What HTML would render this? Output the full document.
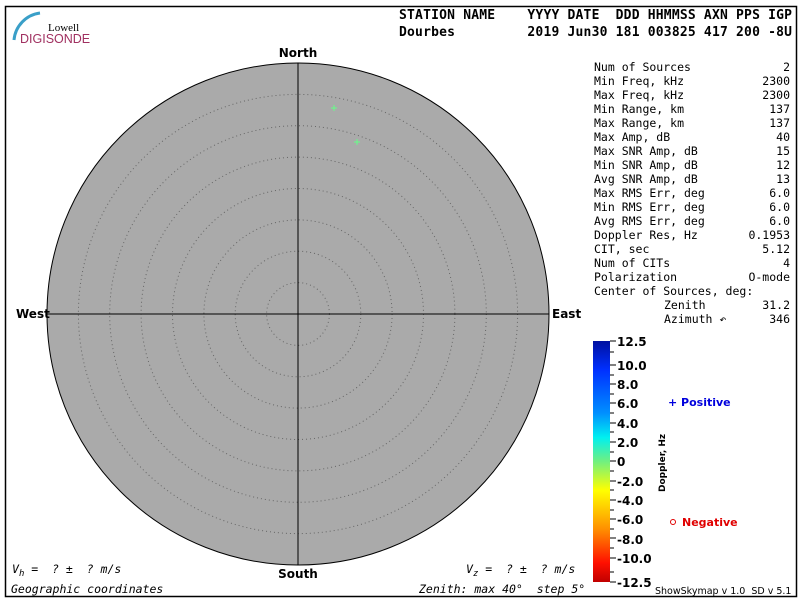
<!DOCTYPE html>
<html><head><meta charset="utf-8"><style>
body{margin:0;background:#fff}
svg{display:block}
.m{font-family:"DejaVu Sans Mono","Liberation Mono",monospace;font-size:11.5px}
.b{font-family:"DejaVu Sans Mono","Liberation Mono",monospace;font-size:13px;font-weight:bold}
.s{font-family:"DejaVu Sans","Liberation Sans",sans-serif;font-weight:bold;font-size:12px}
</style></head><body>
<svg width="800" height="600" xmlns="http://www.w3.org/2000/svg">
<rect x="5.5" y="6.5" width="791" height="590" fill="#fff" stroke="#000" stroke-width="1.5"/>
<!-- logo -->
<path d="M14 40 A30 30 0 0 1 40 13" fill="none" stroke="#3a9fc8" stroke-width="3"/>
<text x="48" y="31" font-family="Liberation Serif,serif" font-size="11">Lowell</text>
<text x="20" y="43" font-family="Liberation Sans,sans-serif" font-size="12.5" fill="#a03060">DIGISONDE</text>
<!-- header -->
<text class="b" x="399" y="19" textLength="393" xml:space="preserve">STATION NAME    YYYY DATE  DDD HHMMSS AXN PPS IGP</text>
<text class="b" x="399" y="36" textLength="393" xml:space="preserve">Dourbes         2019 Jun30 181 003825 417 200 -8U</text>
<!-- sky circle -->
<circle cx="298" cy="314" r="251" fill="#aaaaaa" stroke="#000" stroke-width="1"/>
<g fill="none" stroke="#666" stroke-width="1" stroke-dasharray="1,3">
<circle cx="298" cy="314" r="31.4"/><circle cx="298" cy="314" r="62.8"/><circle cx="298" cy="314" r="94.1"/>
<circle cx="298" cy="314" r="125.5"/><circle cx="298" cy="314" r="156.9"/><circle cx="298" cy="314" r="188.3"/>
<circle cx="298" cy="314" r="219.6"/>
</g>
<line x1="298" y1="63" x2="298" y2="565" stroke="#000"/>
<line x1="47" y1="314" x2="549" y2="314" stroke="#000"/>
<g stroke="#66ff88" stroke-width="1">
<line x1="331" y1="108" x2="337" y2="108"/><line x1="334" y1="105" x2="334" y2="111"/>
<line x1="354" y1="142" x2="360" y2="142"/><line x1="357" y1="139" x2="357" y2="145"/>
</g>
<text class="s" x="298" y="57" text-anchor="middle">North</text>
<text class="s" x="298" y="578" text-anchor="middle">South</text>
<text class="s" x="16" y="318">West</text>
<text class="s" x="552" y="318">East</text>
<!-- bottom texts -->
<text class="m" x="12" y="573" font-style="italic" xml:space="preserve">V<tspan style="font-size:9px" dy="3">h</tspan><tspan dy="-3"> =  ? ±  ? m/s</tspan></text>
<text class="m" x="466" y="573" font-style="italic" xml:space="preserve">V<tspan style="font-size:9px" dy="3">z</tspan><tspan dy="-3"> =  ? ±  ? m/s</tspan></text>
<text class="m" x="11" y="593" font-style="italic">Geographic coordinates</text>
<text class="m" x="419" y="593" font-style="italic" xml:space="preserve">Zenith: max 40°  step 5°</text>
<!-- table -->
<g class="m">
<text x="594" y="71">Num of Sources</text><text x="790" y="71" text-anchor="end">2</text>
<text x="594" y="85">Min Freq, kHz</text><text x="790" y="85" text-anchor="end">2300</text>
<text x="594" y="99">Max Freq, kHz</text><text x="790" y="99" text-anchor="end">2300</text>
<text x="594" y="113">Min Range, km</text><text x="790" y="113" text-anchor="end">137</text>
<text x="594" y="127">Max Range, km</text><text x="790" y="127" text-anchor="end">137</text>
<text x="594" y="141">Max Amp, dB</text><text x="790" y="141" text-anchor="end">40</text>
<text x="594" y="155">Max SNR Amp, dB</text><text x="790" y="155" text-anchor="end">15</text>
<text x="594" y="169">Min SNR Amp, dB</text><text x="790" y="169" text-anchor="end">12</text>
<text x="594" y="183">Avg SNR Amp, dB</text><text x="790" y="183" text-anchor="end">13</text>
<text x="594" y="197">Max RMS Err, deg</text><text x="790" y="197" text-anchor="end">6.0</text>
<text x="594" y="211">Min RMS Err, deg</text><text x="790" y="211" text-anchor="end">6.0</text>
<text x="594" y="225">Avg RMS Err, deg</text><text x="790" y="225" text-anchor="end">6.0</text>
<text x="594" y="239">Doppler Res, Hz</text><text x="790" y="239" text-anchor="end">0.1953</text>
<text x="594" y="253">CIT, sec</text><text x="790" y="253" text-anchor="end">5.12</text>
<text x="594" y="267">Num of CITs</text><text x="790" y="267" text-anchor="end">4</text>
<text x="594" y="281">Polarization</text><text x="790" y="281" text-anchor="end">O-mode</text>
<text x="594" y="295">Center of Sources, deg:</text>
<text x="664" y="309">Zenith</text><text x="790" y="309" text-anchor="end">31.2</text>
<text x="664" y="323">Azimuth ↶</text><text x="790" y="323" text-anchor="end">346</text>
</g>
<!-- colorbar -->
<defs><linearGradient id="cb" x1="0" y1="0" x2="0" y2="1">
<stop offset="0" stop-color="#0010a0"/><stop offset="0.12" stop-color="#0030ff"/>
<stop offset="0.3" stop-color="#0090ff"/><stop offset="0.4" stop-color="#00f0f0"/>
<stop offset="0.5" stop-color="#70f080"/><stop offset="0.62" stop-color="#ffff00"/>
<stop offset="0.78" stop-color="#ff9000"/><stop offset="0.92" stop-color="#ff1000"/>
<stop offset="1" stop-color="#c00000"/></linearGradient></defs>
<rect x="593" y="341" width="17" height="241" fill="url(#cb)"/>
<g stroke="#000">
<line x1="610" y1="341" x2="616" y2="341"/><line x1="610" y1="582" x2="616" y2="582"/>
<line x1="610" y1="365" x2="616" y2="365"/><line x1="610" y1="375" x2="614" y2="375"/>
<line x1="610" y1="384" x2="616" y2="384"/><line x1="610" y1="394" x2="614" y2="394"/>
<line x1="610" y1="403" x2="616" y2="403"/><line x1="610" y1="413" x2="614" y2="413"/>
<line x1="610" y1="423" x2="616" y2="423"/><line x1="610" y1="432" x2="614" y2="432"/>
<line x1="610" y1="442" x2="616" y2="442"/><line x1="610" y1="452" x2="614" y2="452"/>
<line x1="610" y1="461" x2="616" y2="461"/><line x1="610" y1="471" x2="614" y2="471"/>
<line x1="610" y1="481" x2="616" y2="481"/><line x1="610" y1="490" x2="614" y2="490"/>
<line x1="610" y1="500" x2="616" y2="500"/><line x1="610" y1="510" x2="614" y2="510"/>
<line x1="610" y1="519" x2="616" y2="519"/><line x1="610" y1="529" x2="614" y2="529"/>
<line x1="610" y1="538" x2="616" y2="538"/><line x1="610" y1="548" x2="614" y2="548"/>
<line x1="610" y1="558" x2="616" y2="558"/><line x1="610" y1="352" x2="614" y2="352"/>
<line x1="610" y1="572" x2="614" y2="572"/>
</g>
<g class="s">
<text x="617" y="346">12.5</text><text x="617" y="370">10.0</text><text x="617" y="389">8.0</text>
<text x="617" y="408">6.0</text><text x="617" y="428">4.0</text><text x="617" y="447">2.0</text>
<text x="617" y="466">0</text><text x="617" y="486">-2.0</text><text x="617" y="505">-4.0</text>
<text x="617" y="524">-6.0</text><text x="617" y="544">-8.0</text><text x="617" y="563">-10.0</text>
<text x="617" y="587">-12.5</text>
</g>
<text class="s" style="font-size:9px" transform="translate(665,492) rotate(-90)">Doppler, Hz</text>
<text class="s" style="font-size:11px" x="668" y="406" fill="#0000dd">+ Positive</text>
<circle cx="673" cy="522" r="2.5" fill="none" stroke="#e00000"/>
<text class="s" style="font-size:11px" x="682" y="526" fill="#e00000">Negative</text>
<text x="655" y="594" font-family="DejaVu Sans,sans-serif" font-size="9.5" xml:space="preserve">ShowSkymap v 1.0  SD v 5.1</text>
</svg>
</body></html>
